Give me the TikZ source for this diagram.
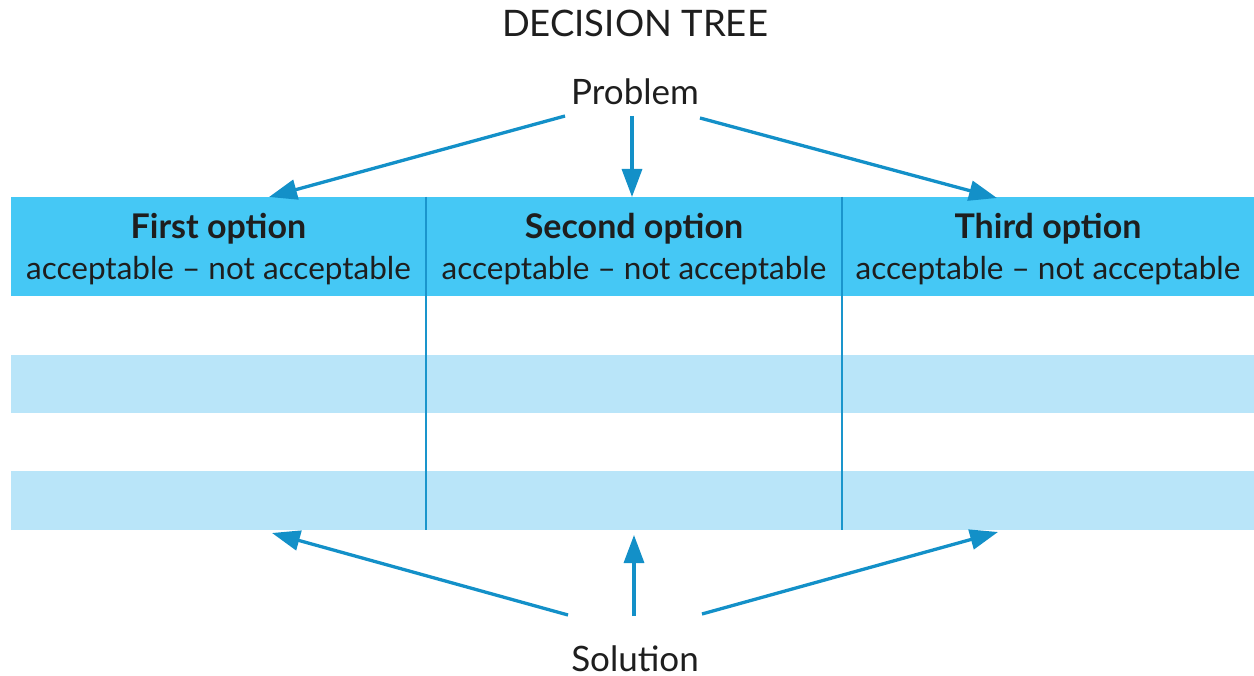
\documentclass[tikz,border=0pt]{standalone}
\usepackage{fontspec}
\setmainfont{Lato}
\usetikzlibrary{arrows.meta}
\definecolor{hdr}{HTML}{45C8F5}
\definecolor{rowl}{HTML}{B9E5F9}
\definecolor{arr}{HTML}{1390C8}
\definecolor{vline}{HTML}{1A95CC}
\definecolor{txt}{HTML}{1E1E1E}
\begin{document}
\begin{tikzpicture}[x=1pt,y=-1pt,
  lbl/.style={text=txt,font=\fontsize{35}{40}\selectfont,inner sep=0pt,anchor=base},
  optname/.style={text=txt,font=\fontsize{34}{40}\selectfont\bfseries,inner sep=0pt,anchor=base},
  optsub/.style={text=txt,font=\fontsize{31.5}{40}\selectfont,inner sep=0pt,anchor=base},
  conn/.style={draw=arr,line width=3.3pt,-{Triangle[length=28pt,width=20pt]}}]
\useasboundingbox (0,0) rectangle (1254,676);
% bands
\fill[hdr] (11,197) rectangle (1254,296);
\fill[rowl] (11,355) rectangle (1254,413);
\fill[rowl] (11,471) rectangle (1254,530);
\draw[vline,line width=1.8pt] (426,197) -- (426,530);
\draw[vline,line width=1.8pt] (842,197) -- (842,530);
% texts
\node[lbl,font=\fontsize{36.5}{40}\selectfont] (title) at (635,37) {DECISION TREE};
\node[lbl] (prob) at (635,105) {Problem};
\node[lbl] (sol) at (635,671) {Solution};
\node[optname] (o1) at (218.5,239) {First option};
\node[optname] (o2) at (634,239) {Second option};
\node[optname] (o3) at (1048,239) {Third option};
\node[optsub] (a1) at (218.5,280) {acceptable – not acceptable};
\node[optsub] (a2) at (634,280) {acceptable – not acceptable};
\node[optsub] (a3) at (1048,280) {acceptable – not acceptable};
% connector ends
\coordinate (ps1) at (565,116);
\coordinate (ps2) at (632,116);
\coordinate (ps3) at (700,118);
\coordinate (pt1) at (269,197);
\coordinate (pt2) at (632,197);
\coordinate (pt3) at (997,198);
\coordinate (ss1) at (568,615);
\coordinate (ss2) at (634,616);
\coordinate (ss3) at (702,614);
\coordinate (st1) at (272,533);
\coordinate (st2) at (634,535);
\coordinate (st3) at (998,532);
\draw[conn] (ps1) -- (pt1);
\draw[conn] (ps2) -- (pt2);
\draw[conn] (ps3) -- (pt3);
\draw[conn] (ss1) -- (st1);
\draw[conn] (ss2) -- (st2);
\draw[conn] (ss3) -- (st3);
\end{tikzpicture}
\end{document}
